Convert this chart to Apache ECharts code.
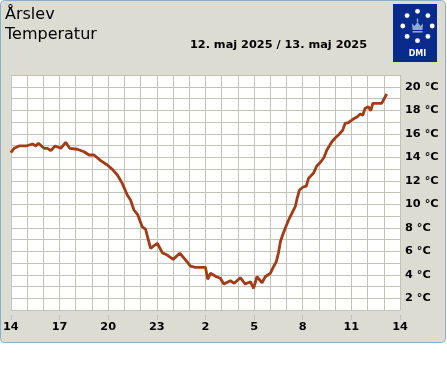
<!DOCTYPE html>
<html><head><meta charset="utf-8">
<script src="https://cdn.jsdelivr.net/npm/echarts@6/dist/echarts.min.js"></script>
<style>html,body{margin:0;padding:0;background:#fff}#c{width:447px;height:370px}</style>
</head><body><div id="c"></div>
<script>
// hours since 14:00 (12. maj) and temperature °C
var hours = [0.00,0.20,0.51,0.92,1.34,1.54,1.70,2.05,2.26,2.46,2.73,3.08,3.38,3.63,4.10,4.51,4.82,5.13,5.54,5.95,6.26,6.57,6.87,7.18,7.38,7.59,7.83,8.10,8.31,8.62,9.03,9.34,9.64,10.01,10.42,10.77,11.08,11.38,12.00,12.14,12.31,12.68,12.92,13.13,13.54,13.78,14.15,14.46,14.77,14.97,15.18,15.49,15.69,16.00,16.20,16.37,16.51,16.62,16.74,16.92,17.13,17.23,17.54,17.66,17.80,18.03,18.22,18.36,18.66,18.87,19.12,19.32,19.49,19.80,20.00,20.20,20.47,20.62,20.82,21.09,21.37,21.54,21.70,21.85,22.05,22.20,22.32,22.87,23.18];
var temps = [14.39,14.76,14.96,14.96,15.13,14.96,15.19,14.76,14.76,14.56,14.96,14.76,15.27,14.76,14.68,14.47,14.19,14.19,13.71,13.34,12.97,12.49,11.78,10.79,10.36,9.51,9.09,8.09,7.87,6.25,6.68,5.88,5.68,5.31,5.83,5.26,4.74,4.63,4.63,3.61,4.12,3.83,3.70,3.21,3.49,3.27,3.75,3.21,3.41,2.85,3.83,3.32,3.83,4.12,4.69,5.11,5.89,6.79,7.30,7.95,8.66,8.94,9.79,10.53,11.21,11.47,11.55,12.21,12.63,13.26,13.62,14.00,14.62,15.32,15.64,15.89,16.32,16.89,16.94,17.23,17.45,17.68,17.57,18.17,18.30,17.96,18.59,18.59,19.38];
var startHour = 14;
var yTickValues = [2,4,6,8,10,12,14,16,18,20];
var station = 'Årslev';
var parameter = 'Temperatur';
var dateText = '12. maj 2025 / 13. maj 2025';

var data = hours.map(function(h,i){return [h,temps[i]];});
var gridColor = '#c2c2b7';
var chart = echarts.init(document.getElementById('c'), null, {renderer:'canvas'});
var dots = [];
for (var k=0;k<8;k++){
  var a = k*Math.PI/4;
  dots.push({type:'circle', shape:{cx:417.5+14.7*Math.sin(a), cy:26-14.7*Math.cos(a), r:2.4}, style:{fill:'#fff'}, z:12});
}
chart.setOption({
  animation:false,
  backgroundColor:'#fff',
  graphic:[
    {type:'rect', shape:{x:0.5,y:0.5,width:445,height:342,r:4}, style:{fill:'#dcdcd3',stroke:'#8eaec6',lineWidth:1}, z:-10},
    {type:'rect', shape:{x:393,y:4,width:44,height:58}, style:{fill:'#0b2b8c'}, z:10},
    {type:'polygon', shape:{points:[[412.5,30],[412,23.5],[414.5,26],[417.5,22],[420.5,26],[423,23.5],[422.5,30]]}, style:{fill:'#8fa6dc'}, z:12},
    {type:'rect', shape:{x:412.5,y:31,width:10,height:1.6}, style:{fill:'#8fa6dc'}, z:12},
    {type:'rect', shape:{x:416.8,y:18.5,width:1.4,height:3.5}, style:{fill:'#8fa6dc'}, z:12},
    {type:'text', x:417.5, y:54, style:{text:'DMI', fill:'#fff', font:'bold 8px "DejaVu Sans"', textAlign:'center', textVerticalAlign:'middle'}, z:12},
    {type:'text', x:5, y:14.5, style:{text:station, fill:'#000', font:'16px "DejaVu Sans"', textVerticalAlign:'middle'}},
    {type:'text', x:5, y:34.5, style:{text:parameter, fill:'#000', font:'16px "DejaVu Sans"', textVerticalAlign:'middle'}},
    {type:'text', x:278.5, y:45, style:{text:dateText, fill:'#000', font:'bold 11.3px "DejaVu Sans"', textAlign:'center', textVerticalAlign:'middle'}}
  ].concat(dots),
  grid:{left:10, top:75, width:390, height:235, show:true, backgroundColor:'#fff', borderWidth:0},
  xAxis:[
    {type:'value', min:0, max:24, interval:1, axisLine:{show:false}, axisTick:{show:false}, axisLabel:{show:false},
     splitLine:{show:true, lineStyle:{color:gridColor, width:1}}},
    {type:'value', position:'bottom', offset:5, min:0, max:24, interval:3, axisLine:{show:false},
     axisTick:{show:true, length:5, lineStyle:{color:gridColor}},
     splitLine:{show:false},
     axisLabel:{margin:7, color:'#000', fontFamily:'DejaVu Sans', fontWeight:'bold', fontSize:11.3,
       formatter:function(v){return String((startHour+v)%24);}}}
  ],
  yAxis:{type:'value', position:'right', min:1, max:21, interval:1, axisLine:{show:false}, axisTick:{show:false},
    splitLine:{show:true, lineStyle:{color:gridColor, width:1}},
    axisLabel:{margin:5, color:'#000', fontFamily:'DejaVu Sans', fontWeight:'bold', fontSize:11.3, align:'left',
      formatter:function(v){return yTickValues.indexOf(v)>=0 ? v+' °C' : '';}}},
  series:[{type:'line', xAxisIndex:0, data:data, symbol:'none', lineStyle:{color:'#a33b16', width:2.8}}]
});
</script></body></html>
